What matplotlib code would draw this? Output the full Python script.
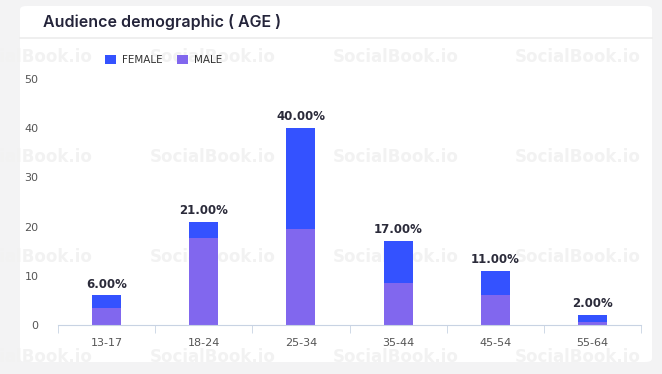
import matplotlib.pyplot as plt
from matplotlib.patches import FancyBboxPatch
from matplotlib.lines import Line2D

# data
ages = ['13-17', '18-24', '25-34', '35-44', '45-54', '55-64']
totals = [6, 21, 40, 17, 11, 2]
male = [3.5, 17.6, 19.6, 8.6, 6.1, 0.6]
female = [t - m for t, m in zip(totals, male)]
labels = ['6.00%', '21.00%', '40.00%', '17.00%', '11.00%', '2.00%']
yticks = [0, 10, 20, 30, 40, 50]

blue = '#3452ff'
purple = '#8167ee'

W, H = 662, 374
fig = plt.figure(figsize=(6.62, 3.74), dpi=100)
fig.patch.set_facecolor('#f3f3f4')

# white card
card = FancyBboxPatch((20 / W, 1 - 362 / H), 632 / W, 356 / H,
                      boxstyle='round,pad=0,rounding_size=0.01',
                      transform=fig.transFigure, facecolor='white',
                      edgecolor='none', zorder=-3)
fig.patches.append(card)
fig.lines.append(Line2D([20 / W, 652 / W], [1 - 38 / H] * 2, transform=fig.transFigure,
                        color='#ececec', lw=1.2, zorder=-2))

# watermark
for yy in [57, 157, 257, 357]:
    for xx in [30, 213, 396, 578]:
        fig.text(xx / W, 1 - yy / H, 'SocialBook.io', ha='center', va='center',
                 fontsize=12, fontweight='bold', color='#f2f2f2', zorder=-1)

fig.text(43 / W, 1 - 22 / H, 'Audience demographic ( AGE )', ha='left', va='center',
         fontsize=11.5, fontweight='semibold', color='#24243a', family='Inter')

ax = fig.add_axes([58 / W, 1 - 325 / H, 583 / W, 246 / H])
ax.set_facecolor('none')
x = range(len(ages))
ax.bar(x, male, width=0.3, color=purple, label='MALE', zorder=2)
ax.bar(x, female, width=0.3, bottom=male, color=blue, label='FEMALE', zorder=2)
for i, t in enumerate(totals):
    ax.text(i, t + 1.0, labels[i], ha='center', va='bottom', fontsize=8.5,
            fontweight='bold', color='#2b2b3a')

ax.set_xlim(-0.5, len(ages) - 0.5)
ax.set_ylim(0, 50)
ax.set_yticks(yticks)
ax.set_xticks(list(x))
ax.set_xticklabels(ages)
ax.set_xticks([i - 0.5 for i in range(len(ages) + 1)], minor=True)
for s in ['top', 'right', 'left']:
    ax.spines[s].set_visible(False)
ax.spines['bottom'].set_color('#c8d3e3')
ax.tick_params(axis='y', length=0, pad=14, labelsize=8, labelcolor='#555555')
ax.tick_params(axis='x', which='major', length=0, pad=9, labelsize=8, labelcolor='#555555')
ax.tick_params(axis='x', which='minor', length=6, color='#c8d3e3')

# legend
handles, lbls = ax.get_legend_handles_labels()
leg = fig.legend(handles[::-1], lbls[::-1], loc='center left',
                 bbox_to_anchor=(96 / W, 1 - 60 / H), ncol=2, frameon=False,
                 fontsize=7.5, handlelength=1.0, handleheight=1.0, handletextpad=0.6,
                 columnspacing=1.4)
for t in leg.get_texts():
    t.set_color('#333333')

fig.savefig('out.png', dpi=100, facecolor=fig.get_facecolor())
